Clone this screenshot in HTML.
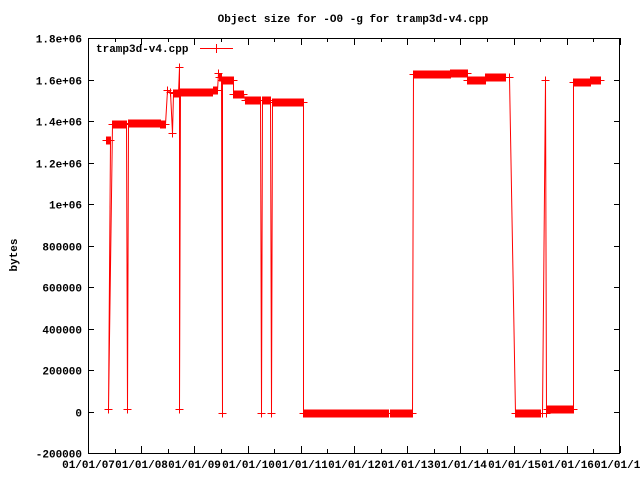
<!DOCTYPE html>
<html><head><style>body{margin:0;background:#fff}svg text{font-family:"Liberation Mono",monospace;font-size:11px;font-weight:bold;fill:#000}</style></head>
<body>
<svg id="s" width="640" height="480" xmlns="http://www.w3.org/2000/svg">
<rect width="640" height="480" fill="#fff"/>
<text x="353" y="22" text-anchor="middle">Object size for -O0 -g for tramp3d-v4.cpp</text>
<text transform="translate(17,255) rotate(-90)" text-anchor="middle">bytes</text>
<g id="ax" shape-rendering="crispEdges"></g>
<g id="data" stroke="#f00" fill="none" stroke-width="1"></g>
<rect x="88.5" y="38.5" width="531" height="415" fill="none" stroke="#000" shape-rendering="crispEdges"/>
<text x="96" y="52">tramp3d-v4.cpp</text>
<line x1="200" y1="48.5" x2="233" y2="48.5" stroke="#f00"/>
<line x1="216.5" y1="44" x2="216.5" y2="53" stroke="#f00"/>
</svg>
<script>
var ns="http://www.w3.org/2000/svg",ax=document.getElementById('ax'),dg=document.getElementById('data');
function el(p,t,a,txt){var e=document.createElementNS(ns,t);for(var k in a)e.setAttribute(k,a[k]);if(txt!=null)e.textContent=txt;p.appendChild(e);return e;}
function Y(v){return Math.round(411.5-v/200000*41.5)+0.5;}
var yl=["-200000","0","200000","400000","600000","800000","1e+06","1.2e+06","1.4e+06","1.6e+06","1.8e+06"];
for(var i=0;i<=10;i++){var v=-200000+i*200000,y=Y(v);
el(ax,'line',{x1:88,y1:y,x2:94,y2:y,stroke:'#000'});el(ax,'line',{x1:620,y1:y,x2:614,y2:y,stroke:'#000'});
el(ax,'text',{x:82,y:y+4,'text-anchor':'end'},yl[i]);}
for(var k=0;k<=10;k++){var x=Math.round(88+53.2*k)+0.5;
el(ax,'line',{x1:x,y1:453,x2:x,y2:446,stroke:'#000'});el(ax,'line',{x1:x,y1:38,x2:x,y2:45,stroke:'#000'});
if(k<10){var xm=Math.round(88+53.2*k+26.6)+0.5;el(ax,'line',{x1:xm,y1:453,x2:xm,y2:449,stroke:'#000'});el(ax,'line',{x1:xm,y1:38,x2:xm,y2:42,stroke:'#000'});}
el(ax,'text',{x:x,y:468,'text-anchor':'middle'},'01/01/'+(7+k<10?'0':'')+(7+k));}
var segs=[[106,110,1310000],[108,108,10000],[112,126,1385000],[127,127,10000],[128,160,1388000],[160,165,1385000],[167,167,1550000],[170,170,1540000],[172,172,1340000],[173,178,1535000],[179,179,1660000],[179,179,10000],[180,212,1540000],[213,217,1550000],[218,218,1630000],[219,221,1610000],[222,222,-5000],[222,233,1600000],[233,243,1530000],[245,260,1500000],[261,261,-5000],[262,270,1500000],[271,271,-5000],[272,303,1490000],[303,388,-5000],[390,412,-5000],[413,450,1625000],[450,467,1630000],[467,485,1600000],[485,505,1610000],[509,509,1610000],[515,540,-5000],[542,542,-5000],[545,545,1600000],[546,546,-5000],[547,573,12000],[573,590,1588000],[590,600,1598000]];
var pts=[];
segs.forEach(function(s){for(var x=s[0];x<=s[1];x+=1)pts.push([x+0.5,Y(s[2])]);});
el(dg,'polyline',{points:pts.map(function(p){return p.join(',')}).join(' ')});
var d='';pts.forEach(function(p){d+='M'+(p[0]-4)+','+p[1]+'h8M'+p[0]+','+(p[1]-4)+'v8';});
el(dg,'path',{d:d});
</script>
</body></html>
